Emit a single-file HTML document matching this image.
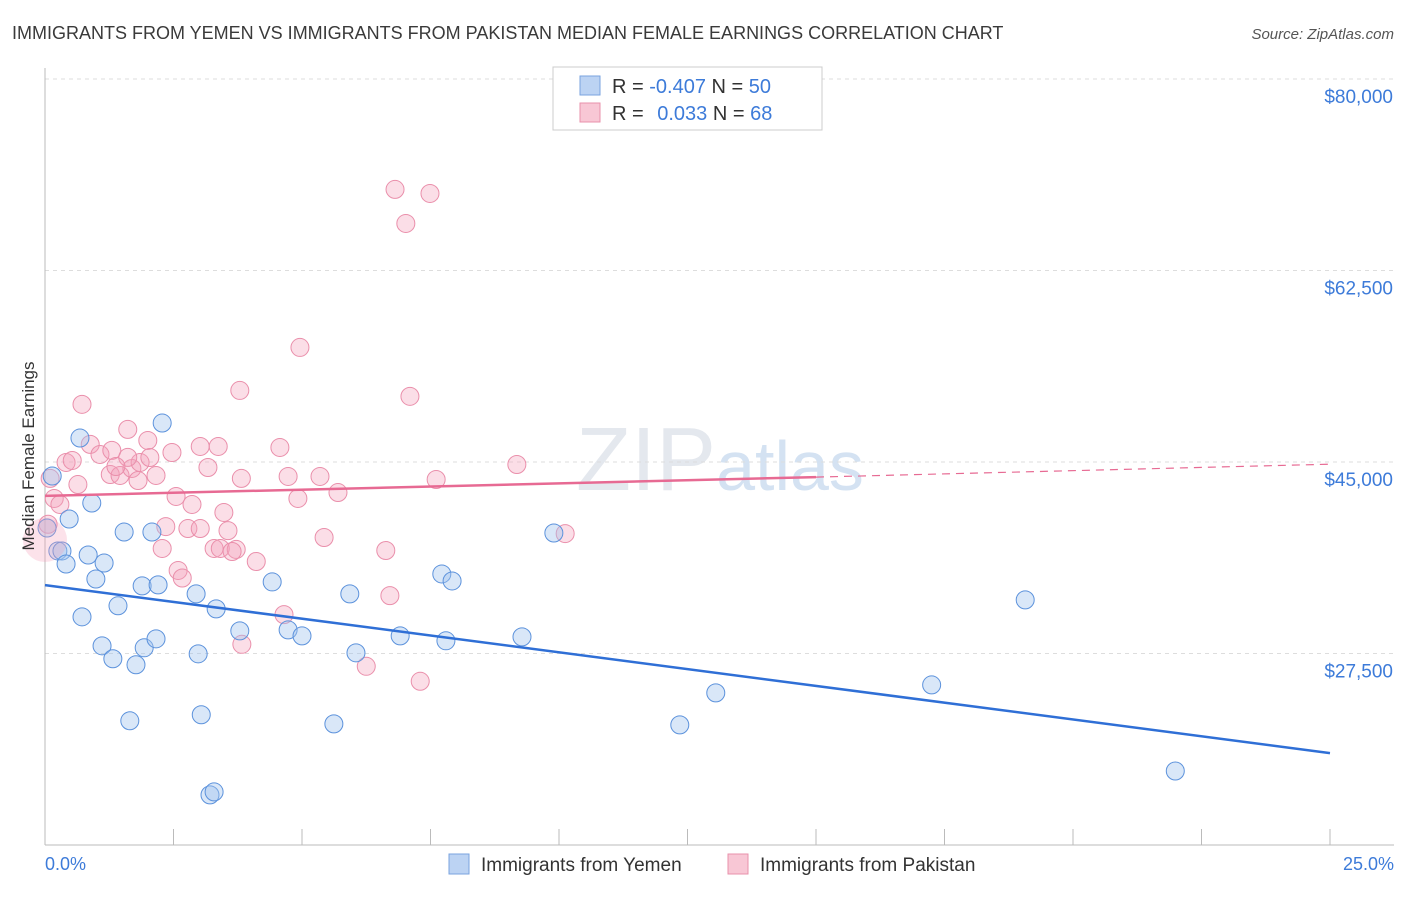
<!DOCTYPE html>
<html><head><meta charset="utf-8"><style>
body{margin:0;background:#fff;font-family:"Liberation Sans",sans-serif;}
svg text{font-family:"Liberation Sans",sans-serif;}
</style></head><body>
<svg id="chart" width="1406" height="892" xmlns="http://www.w3.org/2000/svg">
<text x="12" y="39" font-size="18" fill="#3a3a3a">IMMIGRANTS FROM YEMEN VS IMMIGRANTS FROM PAKISTAN MEDIAN FEMALE EARNINGS CORRELATION CHART</text>
<text x="1394" y="39" font-size="15" font-style="italic" fill="#555" text-anchor="end">Source: ZipAtlas.com</text>
<text x="720" y="490" font-size="90" fill="#e4e8ee" text-anchor="middle" font-family="Liberation Serif">ZIP<tspan fill="#d4e2f2" font-family="Liberation Sans" font-size="70">atlas</tspan></text>
<g id="grid"></g>
<g id="axes"></g>
<g id="pts"></g>
<g id="lines"></g>
<text transform="translate(34,456) rotate(-90)" font-size="17" fill="#333" text-anchor="middle">Median Female Earnings</text>
<text x="45" y="870" font-size="18" fill="#3d7bd9">0.0%</text>
<text x="1394" y="870" font-size="18" fill="#3d7bd9" text-anchor="end">25.0%</text>
<g>
<rect x="553" y="67" width="269" height="63" fill="#fff" stroke="#ccc"/>
<rect x="580" y="76" width="20" height="19" fill="#bcd3f3" stroke="#7aa3df"/>
<rect x="580" y="103" width="20" height="19" fill="#f8c7d5" stroke="#e891ab"/>
<text x="612" y="93" font-size="20" fill="#333">R = <tspan fill="#3d7bd9">-0.407</tspan>   N = <tspan fill="#3d7bd9">50</tspan></text>
<text x="612" y="120" font-size="20" fill="#333">R =  <tspan fill="#3d7bd9" dx="8">0.033</tspan>   N = <tspan fill="#3d7bd9">68</tspan></text>
</g>
<g>
<rect x="449" y="854" width="20" height="20" fill="#bcd3f3" stroke="#7aa3df"/>
<text x="481" y="871" font-size="19" fill="#333">Immigrants from Yemen</text></g>
<g>
<rect x="728" y="854" width="20" height="20" fill="#f8c7d5" stroke="#e891ab"/>
<text x="760" y="871" font-size="19" fill="#333">Immigrants from Pakistan</text></g>
</svg>
<script>
const yTicks=[80000,62500,45000,27500];
const yTickLabels=["$80,000","$62,500","$45,000","$27,500"];
const xTicks=[0,2.5,5,7.5,10,12.5,15,17.5,20,22.5,25];
const yemenX=[0.14,0.68,0.91,0.47,0.04,0.25,0.33,0.41,0.84,1.15,0.99,1.54,2.08,2.28,0.72,1.42,1.89,2.2,2.94,3.33,1.11,1.32,1.77,1.93,2.16,2.98,3.79,4.42,4.73,5.0,5.93,6.05,6.91,7.72,7.92,7.8,9.28,9.9,1.65,3.04,5.62,3.21,3.29,12.35,13.05,17.25,19.07,21.99];
const yemenY=[43720,47190,41250,39790,38970,36870,36870,35680,36500,35770,34310,38600,38600,48560,30850,31860,33680,33770,32950,31580,28200,27020,26470,28020,28840,27470,29570,34040,29660,29110,32950,27560,29110,34770,34130,28660,29020,38510,21350,21900,21070,14580,14850,20980,23900,24630,32400,16760];
const pakX=[6.81,7.49,7.02,4.96,3.79,7.1,0.72,1.61,0.88,2.0,0.41,0.53,1.07,1.27,1.46,1.69,1.85,2.16,2.47,3.02,3.17,3.82,3.37,4.57,5.35,0.1,0.18,0.29,0.64,1.3,2.55,2.86,3.48,3.56,2.78,2.35,3.02,3.29,3.41,3.72,3.64,4.11,2.28,2.59,2.67,4.92,5.7,5.43,6.63,6.71,4.65,3.83,6.25,7.3,4.73,7.61,9.18,10.12,0.06,2.04,1.61,1.81,1.38];
const pakY=[69910,69540,66800,55470,51540,51000,50270,47980,46610,46970,44960,45140,45690,43860,43770,44410,44960,43770,45870,46420,44500,43500,46420,46330,43680,43500,41670,41120,42940,46060,41850,41120,40390,38730,38920,39100,38920,37100,37100,37010,36820,35910,37100,35090,34400,41670,42210,38100,36910,32790,31050,28340,26330,24960,43680,43400,44770,38460,39310,45410,45420,43310,44590];
const X=p=>45+p*51.4, Y=v=>462-(v-45000)/17500*191.5;
const NS="http://www.w3.org/2000/svg";
function mk(t,a,parent){const e=document.createElementNS(NS,t);for(const k in a)e.setAttribute(k,a[k]);document.getElementById(parent).appendChild(e);return e;}
yTicks.forEach((v,i)=>{
 const l=mk('line',{x1:45,x2:1394,y1:Y(v),y2:Y(v),stroke:'#ddd','stroke-dasharray':'4,4'},'grid');
 
 
 const t=mk('text',{x:1393,y:Y(v)+24,'font-size':19,fill:'#3d7bd9','text-anchor':'end'},'grid');
 t.textContent=yTickLabels[i];
 
 
});
const ax=mk('line',{x1:45,x2:45,y1:68,y2:845,stroke:'#bbb'},'axes');


const bx=mk('line',{x1:45,x2:1394,y1:845,y2:845,stroke:'#bbb'},'axes');


xTicks.forEach(p=>{const t=mk('line',{x1:X(p),x2:X(p),y1:829,y2:845,stroke:'#bbb'},'axes');
 
 });
pakX.forEach((p,i)=>{const c=mk('circle',{cx:X(p),cy:Y(pakY[i]),r:9,fill:'rgba(244,160,186,0.35)',stroke:'#ea8fab','stroke-width':1},'pts');
 
 });
yemenX.forEach((p,i)=>{const c=mk('circle',{cx:X(p),cy:Y(yemenY[i]),r:9,fill:'rgba(160,195,238,0.4)',stroke:'#5c92dc','stroke-width':1},'pts');
 
 });
const big=mk('circle',{cx:45,cy:540,r:22,fill:'rgba(244,160,186,0.3)',stroke:'none'},'pts');


const bl=mk('line',{x1:X(0),y1:Y(33750),x2:X(25),y2:Y(18400),stroke:'#2f6fd6','stroke-width':2.5},'lines');


const pl=mk('line',{x1:X(0),y1:Y(41900),x2:X(15),y2:Y(43620),stroke:'#e76a93','stroke-width':2.5},'lines');


const pd=mk('line',{x1:X(15),y1:Y(43620),x2:X(25),y2:Y(44800),stroke:'#e76a93','stroke-width':1.2,'stroke-dasharray':'8,6'},'lines');


</script>
</body></html>
